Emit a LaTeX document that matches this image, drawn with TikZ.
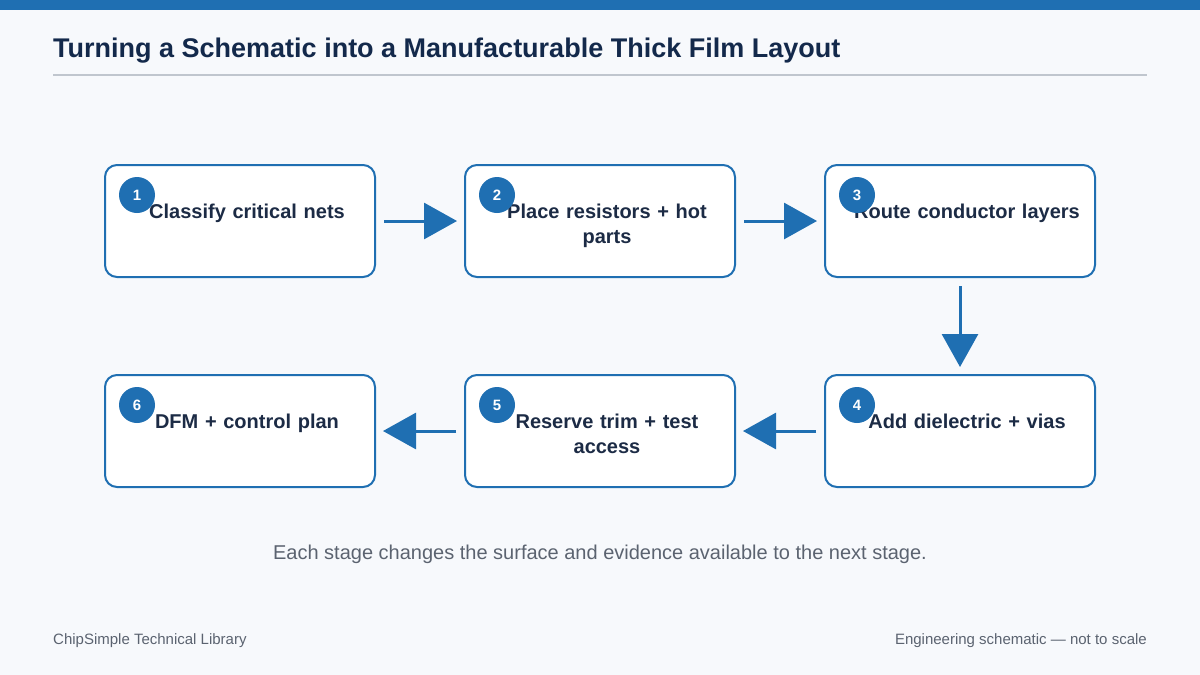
\documentclass[tikz,border=0pt]{standalone}
\usepackage{fontspec}
\setmainfont{Liberation Sans}
\usetikzlibrary{arrows.meta,calc}
\definecolor{pageback}{HTML}{F7F9FC}
\definecolor{flowblue}{HTML}{1F6FB2}
\definecolor{titlenavy}{HTML}{13294B}
\definecolor{textnavy}{HTML}{1C2B45}
\definecolor{rulegray}{HTML}{C0C6CE}
\definecolor{notegray}{HTML}{5B6370}
\begin{document}
\begin{tikzpicture}[x=1pt, y=-1pt,
    stepbox/.style={draw=flowblue, line width=2pt, fill=white, rounded corners=12pt,
      minimum width=270pt, minimum height=112pt, inner sep=0pt},
    stepnum/.style={circle, fill=flowblue, text=white, minimum size=36pt, inner sep=0pt,
      font=\fontsize{15}{18}\selectfont\bfseries},
    steptext/.style={text=textnavy, text width=250pt, align=center, anchor=base, inner sep=0pt,
      font=\fontsize{20}{25}\selectfont\bfseries},
    flow/.style={draw=flowblue, line width=3pt, -{Triangle[length=33pt, width=36pt]},
      shorten <=8pt, shorten >=7pt}]
  % 1. page background, top band, title
  \useasboundingbox (0,0) rectangle (1200,675);
  \fill[pageback] (0,0) rectangle (1200,675);
  \fill[flowblue] (0,0) rectangle (1200,10);
  \node[anchor=base west, inner sep=0pt, text=titlenavy, font=\fontsize{27}{32}\selectfont\bfseries]
    (title) at (53,57) {Turning a Schematic into a Manufacturable Thick Film Layout};
  \draw[rulegray, line width=1.5pt] (53,75) -- (1147,75);

  % 2. the six stages
  \node[stepbox] (s1) at (240,221) {};
  \node[stepbox] (s2) at (600,221) {};
  \node[stepbox] (s3) at (960,221) {};
  \node[stepbox] (s4) at (960,431) {};
  \node[stepbox] (s5) at (600,431) {};
  \node[stepbox] (s6) at (240,431) {};

  \node[steptext] (t1) at ($(s1.north)+(7,54)$) {Classify critical nets};
  \node[steptext] (t2) at ($(s2.north)+(7,54)$) {Place resistors + hot\\parts};
  \node[steptext] (t3) at ($(s3.north)+(7,54)$) {Route conductor layers};
  \node[steptext] (t4) at ($(s4.north)+(7,54)$) {Add dielectric + vias};
  \node[steptext] (t5) at ($(s5.north)+(7,54)$) {Reserve trim + test\\access};
  \node[steptext] (t6) at ($(s6.north)+(7,54)$) {DFM + control plan};

  \node[stepnum] (n1) at ($(s1.north west)+(33,31)$) {1};
  \node[stepnum] (n2) at ($(s2.north west)+(33,31)$) {2};
  \node[stepnum] (n3) at ($(s3.north west)+(33,31)$) {3};
  \node[stepnum] (n4) at ($(s4.north west)+(33,31)$) {4};
  \node[stepnum] (n5) at ($(s5.north west)+(33,31)$) {5};
  \node[stepnum] (n6) at ($(s6.north west)+(33,31)$) {6};

  % 3. connectors
  \draw[flow] (s1) -- (s2);
  \draw[flow] (s2) -- (s3);
  \draw[flow] (s3) -- (s4);
  \draw[flow] (s4) -- (s5);
  \draw[flow] (s5) -- (s6);

  % 4. caption and footer
  \node[inner sep=0pt, text=notegray, font=\fontsize{20}{24}\selectfont, anchor=base]
    (caption) at (600,559) {Each stage changes the surface and evidence available to the next stage.};
  \node[inner sep=0pt, text=notegray, font=\fontsize{15}{18}\selectfont, anchor=base west]
    (lib) at (53,644) {ChipSimple Technical Library};
  \node[inner sep=0pt, text=notegray, font=\fontsize{15}{18}\selectfont, anchor=base east]
    (scale) at (1147,644) {Engineering schematic — not to scale};
\end{tikzpicture}
\end{document}
